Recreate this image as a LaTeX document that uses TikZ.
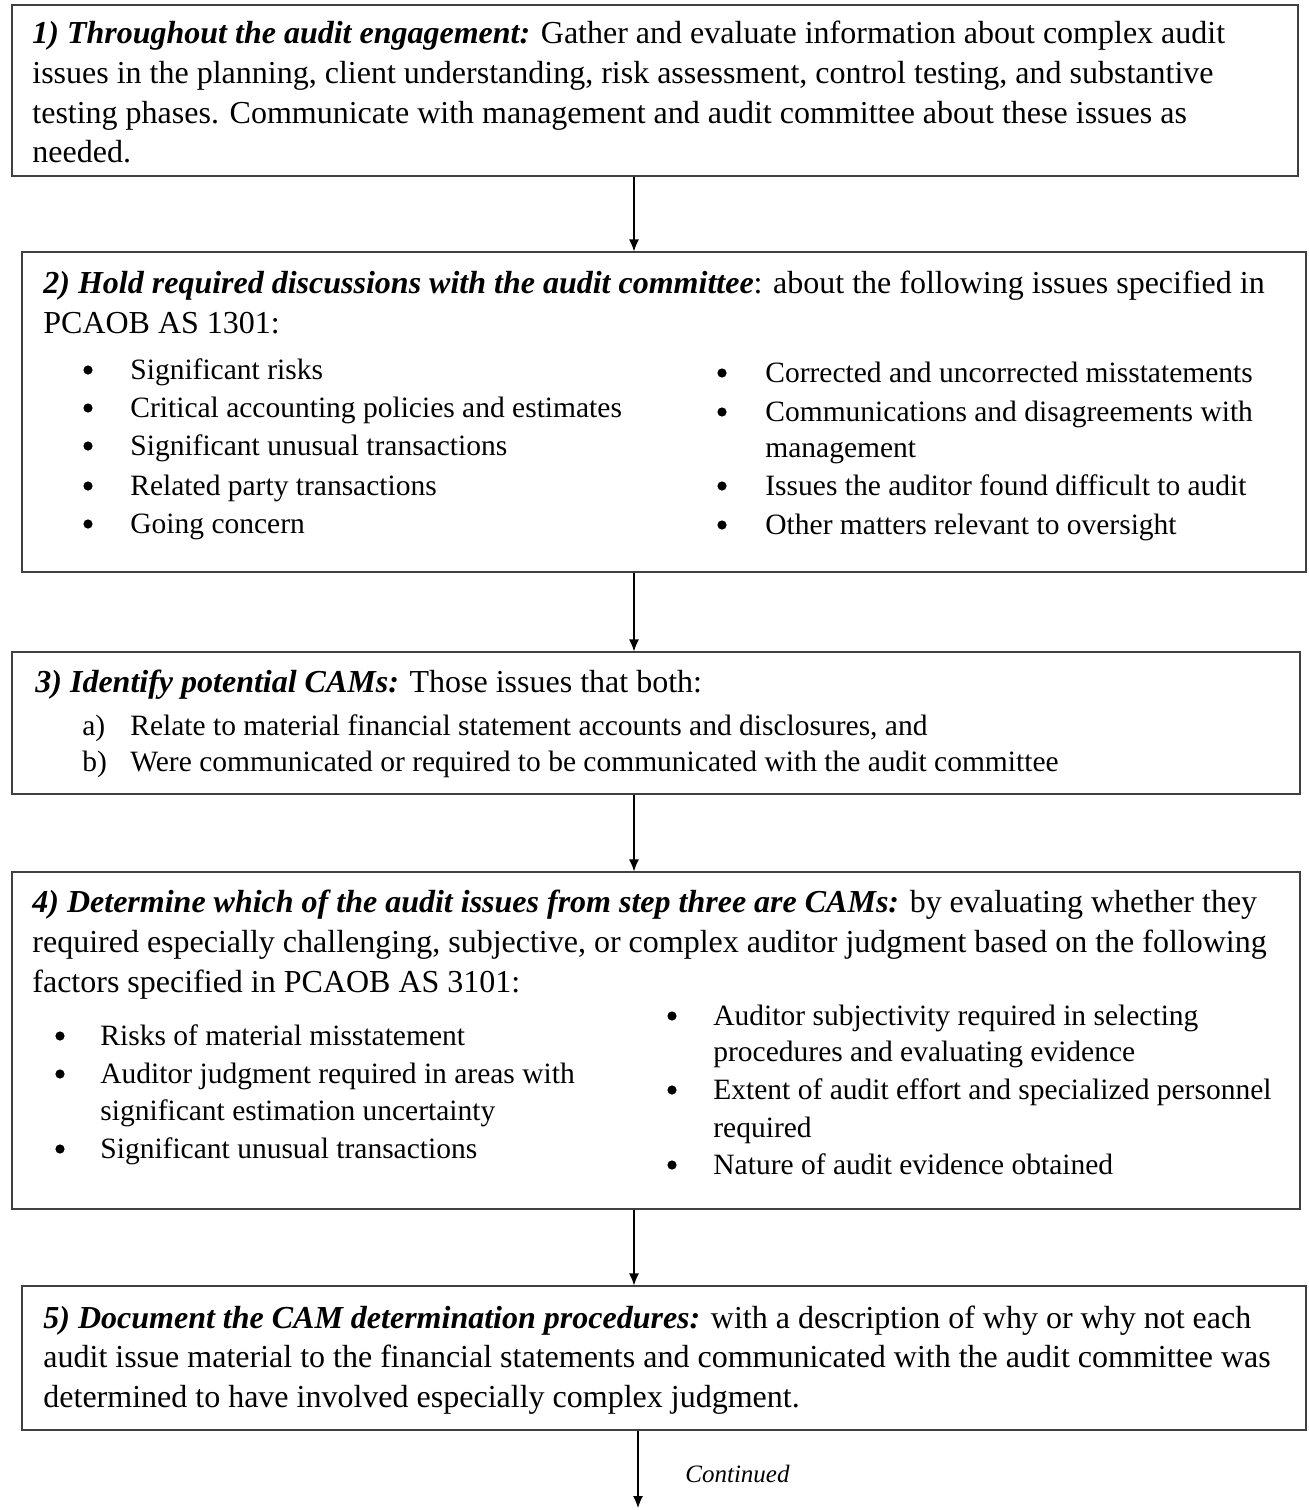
\documentclass[tikz,border=0pt]{standalone}
\usepackage{fontspec}
\setmainfont{Liberation Serif}
\usetikzlibrary{arrows.meta, fit}

\tikzset{
    box/.style={draw=black!75, line width=0.6pt, inner sep=0pt},
    txt/.style={anchor=base west, inner sep=0pt, font=\fontsize{16}{19}\selectfont},
    lst/.style={txt, font=\fontsize{14.75}{18}\selectfont},
    dot/.style={circle, fill=black, inner sep=0pt, minimum size=4.6pt},
    arr/.style={-{Latex[length=6pt, width=5pt]}, line width=0.6pt},
}
\newcommand{\hd}[1]{{\bfseries\itshape #1}}

\begin{document}
\begin{tikzpicture}[x=0.5pt, y=-0.5pt]
    \fill[white] (0,0) rectangle (1308,1510);
    \useasboundingbox (0,0) rectangle (1308,1510);

    % Boxes
    \node[box, fit={(12,5) (1298,176)}] (b1) {};
    \node[box, fit={(22,252) (1306,572)}] (b2) {};
    \node[box, fit={(12,652) (1300,794)}] (b3) {};
    \node[box, fit={(12,872) (1300,1209)}] (b4) {};
    \node[box, fit={(22,1286) (1306,1430)}] (b5) {};

    % Arrows
    \coordinate (ax) at (634,0);
    \coordinate (end) at (638,1508);
    \draw[arr] (b1.south -| ax) -- (b2.north -| ax);
    \draw[arr] (b2.south -| ax) -- (b3.north -| ax);
    \draw[arr] (b3.south -| ax) -- (b4.north -| ax);
    \draw[arr] (b4.south -| ax) -- (b5.north -| ax);
    \draw[arr] (b5.south -| end) -- (end);
    \node[txt, font=\fontsize{12.5}{15}\selectfont\itshape] (cont) at (685,1482) {Continued};

    % Step 1
    \node[txt] (t1a) at (32,43) {\hd{1) Throughout the audit engagement:} Gather and evaluate information about complex audit};
    \node[txt] (t1b) at (32,83) {issues in the planning, client understanding, risk assessment, control testing, and substantive};
    \node[txt] (t1c) at (32,123) {testing phases. Communicate with management and audit committee about these issues as};
    \node[txt] (t1d) at (32,162) {needed.};

    % Step 2
    \node[txt] (t2a) at (43,293) {\hd{2) Hold required discussions with the audit committee}: about the following issues specified in};
    \node[txt] (t2b) at (43,333) {PCAOB AS 1301:};
    \foreach \y/\t [count=\i] in {379/Significant risks, 417/Critical accounting policies and estimates,
        455/Significant unusual transactions, 495/Related party transactions, 533/Going concern} {
        \node[dot] (d2l\i) at (88,\y-9) {};
        \node[lst] (t2l\i) at (130,\y) {\t};
    }
    \foreach \y/\t [count=\i] in {382/Corrected and uncorrected misstatements, 421/Communications and disagreements with,
        495/Issues the auditor found difficult to audit, 534/Other matters relevant to oversight} {
        \node[dot] (d2r\i) at (722,\y-9) {};
        \node[lst] (t2r\i) at (765,\y) {\t};
    }
    \node[lst] (t2r5) at (765,457) {management};

    % Step 3
    \node[txt] (t3a) at (35,692) {\hd{3) Identify potential CAMs:} Those issues that both:};
    \node[lst] (t3b) at (82,735) {a)};
    \node[lst] (t3c) at (130,735) {Relate to material financial statement accounts and disclosures, and};
    \node[lst] (t3d) at (82,771) {b)};
    \node[lst] (t3e) at (130,771) {Were communicated or required to be communicated with the audit committee};

    % Step 4
    \node[txt] (t4a) at (32,912) {\hd{4) Determine which of the audit issues from step three are CAMs:} by evaluating whether they};
    \node[txt] (t4b) at (32,952) {required especially challenging, subjective, or complex auditor judgment based on the following};
    \node[txt] (t4c) at (32,992) {factors specified in PCAOB AS 3101:};
    \foreach \y/\t [count=\i] in {1045/Risks of material misstatement, 1083/Auditor judgment required in areas with,
        1158/Significant unusual transactions} {
        \node[dot] (d4l\i) at (60,\y-9) {};
        \node[lst] (t4l\i) at (100,\y) {\t};
    }
    \node[lst] (t4l4) at (100,1120) {significant estimation uncertainty};
    \foreach \y/\t [count=\i] in {1025/Auditor subjectivity required in selecting, 1099/Extent of audit effort and specialized personnel,
        1174/Nature of audit evidence obtained} {
        \node[dot] (d4r\i) at (672,\y-9) {};
        \node[lst] (t4r\i) at (713,\y) {\t};
    }
    \node[lst] (t4r4) at (713,1061) {procedures and evaluating evidence};
    \node[lst] (t4r5) at (713,1137) {required};

    % Step 5
    \node[txt] (t5a) at (43,1328) {\hd{5) Document the CAM determination procedures:} with a description of why or why not each};
    \node[txt] (t5b) at (43,1367) {audit issue material to the financial statements and communicated with the audit committee was};
    \node[txt] (t5c) at (43,1407) {determined to have involved especially complex judgment.};
\end{tikzpicture}
\end{document}
